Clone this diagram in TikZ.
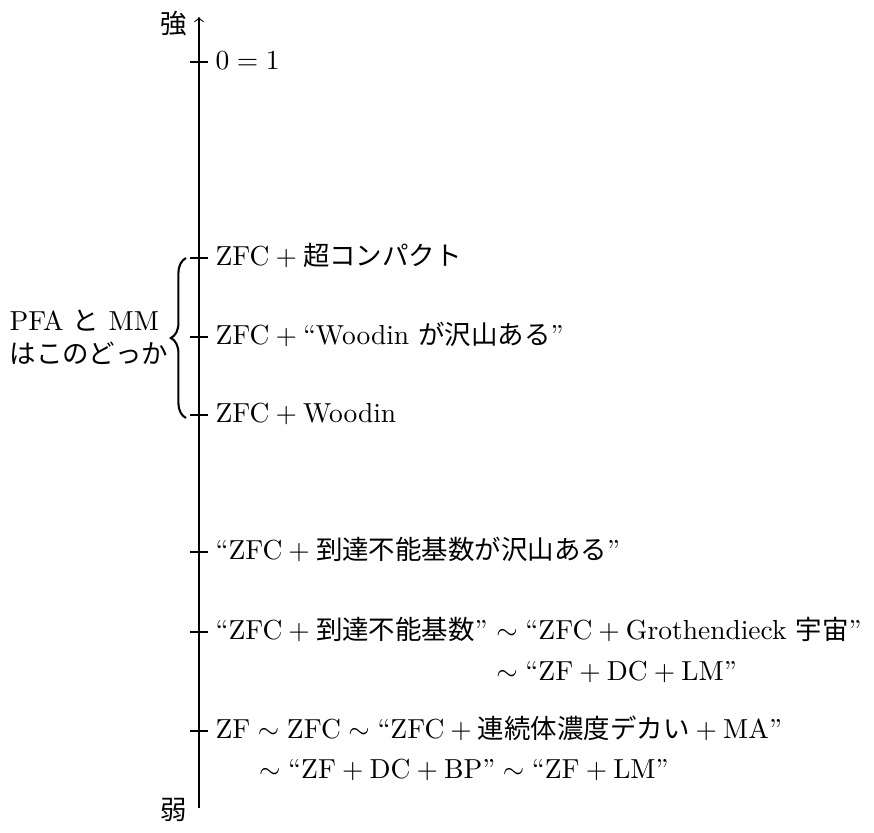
\documentclass[tikz,border=0pt]{standalone}
\usepackage{fontspec}
\newfontfamily\jpfont[Scale=0.962]{Noto Sans CJK JP}
\newcommand\jpt[1]{{\jpfont #1}}
\newcommand\pl{${}+{}$}
\newcommand\sm{${}\sim{}$}
\usetikzlibrary{decorations.pathreplacing}
\tikzset{
  lab/.style={anchor=base west, inner sep=0pt},
  tick/.style={line width=0.4pt},
  brc/.style={decorate, decoration={brace, amplitude=5.5pt}, line width=0.75pt},
}
\begin{document}
\begin{tikzpicture}[x=0.3636pt,y=-0.3636pt]
\useasboundingbox (0,0) rectangle (874,832);
% axis
\coordinate (bot) at (199,808);
\coordinate (top) at (199,17);
\draw[->] (bot) -- (top);
\node[anchor=east, inner sep=1pt] (strong) at (190,24) {\jpt{強}};
\node[anchor=east, inner sep=1pt] (weak) at (190,810) {\jpt{弱}};
% ticks
\foreach \yy/\nm in {62/t1,258/t2,337/t3,415/t4,552/t5,632/t6,731/t7}{
  \coordinate (\nm l) at (190,\yy);
  \coordinate (\nm r) at (208,\yy);
  \draw[tick] (\nm l) -- (\nm r);
}
% labels
\node[lab] (l1) at (215,69) {$0=1$};
\node[lab] (l2) at (215,265) {ZFC\pl\jpt{超コンパクト}};
\node[lab] (l3) at (215,344) {ZFC\pl``Woodin \jpt{が沢山ある}''};
\node[lab] (l4) at (215,422) {ZFC\pl Woodin};
\node[lab] (l5) at (215,559) {``ZFC\pl\jpt{到達不能基数が沢山ある}''};
\node[lab] (l6a) at (215,639) {``ZFC\pl\jpt{到達不能基数}''};
\node[lab, anchor=base west] (l6b) at (l6a.base east) {${}\sim{}$``ZFC\pl Grothendieck \jpt{宇宙}''};
\node[lab] (l6c) at ([yshift=-41*0.3636pt]l6b.base west) {${}\sim{}$``ZF\pl DC\pl LM''};
\node[lab] (l7a) at (215,738) {ZF\sm ZFC\sm``ZFC\pl\jpt{連続体濃度デカい}\pl MA''};
\node[lab] (l7b) at (251,778) {${}\sim{}$``ZF\pl DC\pl BP''\sm``ZF\pl LM''};
% brace
\coordinate (bb) at (186,418);
\coordinate (bt) at (186,258);
\draw[brc] (bb) -- (bt);
\node[anchor=west, align=left, inner sep=0pt] (pfa) at (9,337) {PFA \jpt{と} MM\\\jpt{はこのどっか}};
\end{tikzpicture}
\end{document}
